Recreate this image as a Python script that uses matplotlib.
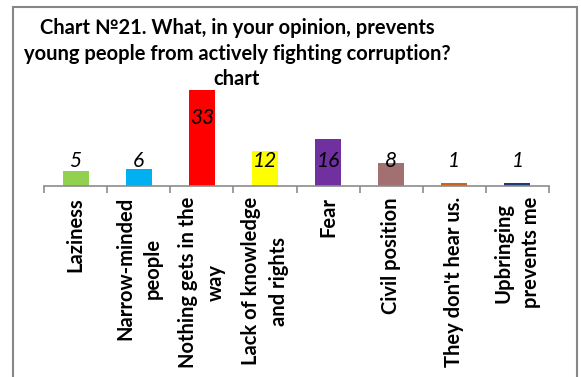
import matplotlib.pyplot as plt
from matplotlib.patches import Rectangle

categories = ['Laziness', 'Narrow-minded\npeople', 'Nothing gets in the\nway',
              'Lack of knowledge\nand rights', 'Fear', 'Civil position',
              "They don't hear us.", 'Upbringing\nprevents me']
values = [5, 6, 33, 12, 16, 8, 1, 1]
colors = ['#92D050', '#00B0F0', '#FF0000', '#FFFF00', '#7030A0', '#A27070',
          '#C8641E', '#1F3A78']
title = 'Chart №21. What, in your opinion, prevents\nyoung people from actively fighting corruption?\nchart'

fam = ['Lato', 'DejaVu Sans']
plt.rcParams['font.family'] = fam

fig = plt.figure(figsize=(5.81, 3.77), dpi=100)
ax = fig.add_axes([44 / 581, 1 - 186 / 377, 505 / 581, 35 * 2.91 / 377])

x = range(len(values))
ax.bar(x, values, width=0.41, color=colors)
ax.set_xlim(-0.5, len(values) - 0.5)
ax.set_ylim(0, 35)

# подписи значений
for i, v in enumerate(values):
    y = 8.6 if v < 20 else v * 0.71
    ax.text(i, y, str(v), ha='center', va='center', fontsize=15,
            style='italic', color='black')

for s in ['top', 'right', 'left']:
    ax.spines[s].set_visible(False)
ax.spines['bottom'].set_color('#8C8C8C')
ax.spines['bottom'].set_linewidth(1.2)
ax.set_yticks([])

ax.set_xticks([i - 0.5 for i in range(len(values) + 1)], minor=False)
ax.set_xticklabels([])
ax.tick_params(axis='x', length=5, width=1.2, color='#8C8C8C', direction='out')
for i, c in enumerate(categories):
    ax.annotate(c, xy=(i, 0), xycoords=('data', 'axes fraction'),
                xytext=(0, -8), textcoords='offset points', rotation=90,
                ha='center', va='top', fontsize=14.5, fontweight='bold',
                multialignment='center', linespacing=1.45)

fig.text(237 / 581, 1 - 18 / 377, title, ha='center', va='top', fontsize=14.5,
         fontweight='bold', linespacing=1.35)

# рамка
fig.patches.append(Rectangle((13 / 581, -0.05), 564 / 581, 1.05 - 7 / 377,
                             transform=fig.transFigure, fill=False,
                             edgecolor='#868686', linewidth=1.5))

fig.savefig('out.png', dpi=100)
